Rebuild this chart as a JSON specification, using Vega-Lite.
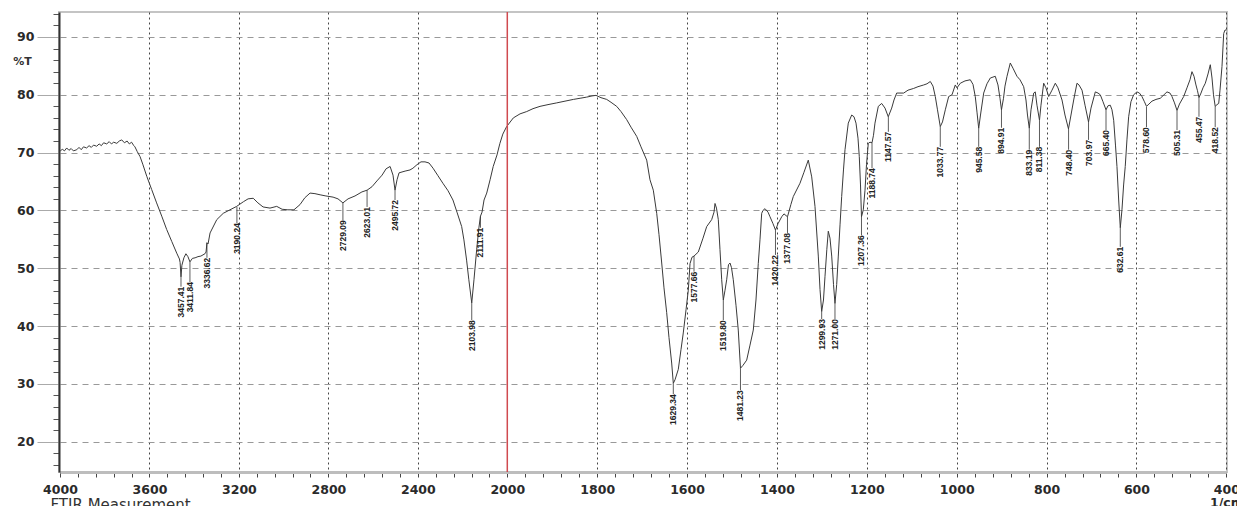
{
  "$schema": "https://vega.github.io/schema/vega-lite/v6.json",
  "width": 1168,
  "height": 460,
  "autosize": {"type": "none"},
  "padding": {"left": 59, "top": 12, "right": 10, "bottom": 34},
  "background": "white",
  "view": {"stroke": "#c4c4c4", "strokeWidth": 2},
  "config": {"font": "DejaVu Sans"},
  "datasets": {
    "spectrum": [
      {"wn":4000,"t":70.2},{"wn":3990,"t":70.6},{"wn":3980,"t":70.3},{"wn":3970,"t":70.8},{"wn":3960,"t":70.4},{"wn":3950,"t":70.7},{"wn":3940,"t":70.3},{"wn":3925,"t":70.5},{"wn":3915,"t":70.9},{"wn":3905,"t":70.5},{"wn":3895,"t":71.0},{"wn":3881,"t":70.8},{"wn":3870,"t":71.2},{"wn":3860,"t":70.9},{"wn":3850,"t":71.3},{"wn":3836,"t":71.1},{"wn":3825,"t":71.5},{"wn":3815,"t":71.2},{"wn":3805,"t":71.7},{"wn":3791,"t":71.5},{"wn":3780,"t":71.9},{"wn":3770,"t":71.5},{"wn":3760,"t":71.8},{"wn":3746,"t":71.6},{"wn":3735,"t":72.0},{"wn":3724,"t":72.2},{"wn":3712,"t":71.7},{"wn":3700,"t":72.0},{"wn":3690,"t":71.5},{"wn":3680,"t":71.8},{"wn":3670,"t":71.2},{"wn":3665,"t":71.0},{"wn":3655,"t":70.2},{"wn":3642,"t":69.3},{"wn":3630,"t":68.0},{"wn":3612,"t":65.9},{"wn":3590,"t":63.6},{"wn":3568,"t":61.3},{"wn":3545,"t":59.0},{"wn":3523,"t":56.7},{"wn":3500,"t":54.6},{"wn":3478,"t":52.6},{"wn":3466,"t":51.6},{"wn":3463,"t":51.0},{"wn":3459,"t":48.5},{"wn":3455,"t":50.5},{"wn":3446,"t":51.8},{"wn":3437,"t":52.5},{"wn":3428,"t":52.0},{"wn":3419,"t":51.1},{"wn":3408,"t":51.7},{"wn":3396,"t":51.8},{"wn":3383,"t":52.0},{"wn":3370,"t":52.1},{"wn":3352,"t":52.5},{"wn":3347,"t":52.8},{"wn":3343,"t":54.4},{"wn":3338,"t":54.2},{"wn":3329,"t":56.1},{"wn":3299,"t":58.4},{"wn":3270,"t":59.5},{"wn":3240,"t":60.1},{"wn":3210,"t":60.7},{"wn":3180,"t":61.5},{"wn":3159,"t":62.0},{"wn":3136,"t":62.1},{"wn":3115,"t":61.3},{"wn":3092,"t":60.6},{"wn":3061,"t":60.4},{"wn":3031,"t":60.7},{"wn":3007,"t":60.2},{"wn":2981,"t":60.1},{"wn":2954,"t":60.1},{"wn":2927,"t":61.0},{"wn":2905,"t":62.2},{"wn":2882,"t":63.0},{"wn":2860,"t":62.9},{"wn":2837,"t":62.7},{"wn":2811,"t":62.5},{"wn":2779,"t":62.3},{"wn":2757,"t":62.0},{"wn":2735,"t":61.3},{"wn":2712,"t":62.0},{"wn":2681,"t":62.5},{"wn":2650,"t":63.2},{"wn":2627,"t":63.5},{"wn":2605,"t":64.1},{"wn":2583,"t":65.1},{"wn":2560,"t":66.1},{"wn":2542,"t":67.2},{"wn":2524,"t":67.6},{"wn":2511,"t":66.1},{"wn":2502,"t":63.5},{"wn":2493,"t":65.3},{"wn":2484,"t":66.5},{"wn":2457,"t":66.8},{"wn":2435,"t":67.0},{"wn":2422,"t":67.3},{"wn":2404,"t":67.9},{"wn":2386,"t":68.4},{"wn":2368,"t":68.4},{"wn":2350,"t":68.2},{"wn":2332,"t":67.3},{"wn":2310,"t":66.0},{"wn":2288,"t":64.7},{"wn":2265,"t":63.4},{"wn":2243,"t":61.8},{"wn":2225,"t":59.7},{"wn":2204,"t":57.2},{"wn":2194,"t":54.9},{"wn":2182,"t":51.4},{"wn":2172,"t":48.0},{"wn":2159,"t":44.0},{"wn":2149,"t":48.0},{"wn":2137,"t":53.2},{"wn":2127,"t":57.0},{"wn":2120,"t":59.0},{"wn":2113,"t":59.7},{"wn":2104,"t":61.8},{"wn":2092,"t":63.0},{"wn":2077,"t":65.3},{"wn":2063,"t":67.6},{"wn":2046,"t":69.6},{"wn":2033,"t":71.6},{"wn":2020,"t":73.2},{"wn":2003,"t":74.5},
      {"wn":1986.6,"t":76.0},{"wn":1971.7,"t":76.7},{"wn":1956.8,"t":77.1},{"wn":1942.8,"t":77.6},{"wn":1927.2,"t":78.0},{"wn":1909.4,"t":78.3},{"wn":1890,"t":78.6},{"wn":1871.6,"t":78.9},{"wn":1853,"t":79.2},{"wn":1838,"t":79.4},{"wn":1823.3,"t":79.6},{"wn":1811.5,"t":79.8},{"wn":1802.6,"t":79.9},{"wn":1791.5,"t":79.5},{"wn":1778.8,"t":79.2},{"wn":1769.2,"t":78.7},{"wn":1756.6,"t":78.0},{"wn":1747,"t":77.1},{"wn":1734.3,"t":75.7},{"wn":1724.7,"t":74.4},{"wn":1712,"t":72.8},{"wn":1702.5,"t":71.0},{"wn":1689.8,"t":68.7},{"wn":1682.5,"t":65.3},{"wn":1675.1,"t":63.5},{"wn":1667.5,"t":59.5},{"wn":1662.4,"t":55.8},{"wn":1656.4,"t":50.9},{"wn":1651.3,"t":46.6},{"wn":1645.3,"t":42.3},{"wn":1640.2,"t":38.0},{"wn":1634.2,"t":33.6},{"wn":1630.6,"t":30.1},{"wn":1626.8,"t":30.7},{"wn":1619.5,"t":32.5},{"wn":1613.5,"t":35.9},{"wn":1608.4,"t":38.8},{"wn":1602.3,"t":42.8},{"wn":1597.2,"t":46.2},{"wn":1593.4,"t":50.8},{"wn":1589,"t":51.9},{"wn":1584.5,"t":52.1},{"wn":1575,"t":52.8},{"wn":1564.5,"t":55.2},{"wn":1556.3,"t":57.2},{"wn":1545.2,"t":58.4},{"wn":1540,"t":59.7},{"wn":1537.8,"t":61.2},{"wn":1534.5,"t":60.4},{"wn":1530.4,"t":58.4},{"wn":1526.7,"t":53.2},{"wn":1522.9,"t":48.0},{"wn":1519.3,"t":44.5},{"wn":1515.5,"t":46.2},{"wn":1511.8,"t":48.0},{"wn":1507.8,"t":50.6},{"wn":1504.4,"t":50.9},{"wn":1501.1,"t":50.1},{"wn":1497.1,"t":48.0},{"wn":1491.1,"t":43.6},{"wn":1486,"t":39.3},{"wn":1481.1,"t":32.7},{"wn":1475.5,"t":33.2},{"wn":1467.3,"t":34.1},{"wn":1459.9,"t":36.7},{"wn":1452.6,"t":39.3},{"wn":1446.6,"t":44.5},{"wn":1441.5,"t":50.8},{"wn":1437.7,"t":54.9},{"wn":1433.9,"t":59.5},{"wn":1431,"t":60.0},{"wn":1426.5,"t":60.3},{"wn":1419.8,"t":59.7},{"wn":1415.4,"t":58.9},{"wn":1408.7,"t":57.7},{"wn":1403.2,"t":56.6},{"wn":1397.6,"t":57.7},{"wn":1389.4,"t":58.9},{"wn":1384.3,"t":59.4},{"wn":1376.5,"t":58.9},{"wn":1369,"t":61.0},{"wn":1363.6,"t":62.4},{"wn":1348.7,"t":64.7},{"wn":1339.8,"t":66.6},{"wn":1330.2,"t":68.7},{"wn":1322.6,"t":65.8},{"wn":1315.3,"t":60.7},{"wn":1307.9,"t":52.1},{"wn":1304.1,"t":46.3},{"wn":1300.4,"t":42.5},{"wn":1296.4,"t":44.5},{"wn":1293,"t":48.6},{"wn":1289,"t":53.2},{"wn":1285.7,"t":56.4},{"wn":1281.9,"t":55.2},{"wn":1278.1,"t":52.1},{"wn":1274.1,"t":47.2},{"wn":1270.8,"t":43.9},{"wn":1267,"t":47.2},{"wn":1263.4,"t":52.1},{"wn":1259.6,"t":57.5},{"wn":1255.9,"t":62.4},{"wn":1251.9,"t":67.0},{"wn":1248.5,"t":70.5},{"wn":1241.2,"t":75.1},{"wn":1233.6,"t":76.5},{"wn":1228.5,"t":76.2},{"wn":1224,"t":75.1},{"wn":1219.6,"t":72.5},{"wn":1216.7,"t":69.3},{"wn":1214,"t":64.4},{"wn":1211.8,"t":58.9},{"wn":1207.8,"t":60.1},{"wn":1204,"t":63.5},{"wn":1200.7,"t":67.9},{"wn":1196.7,"t":71.6},{"wn":1192.9,"t":71.8},{"wn":1188.4,"t":71.7},{"wn":1185.1,"t":73.0},{"wn":1181.8,"t":75.1},{"wn":1174.4,"t":78.0},{"wn":1166.9,"t":78.5},{"wn":1159.5,"t":77.7},{"wn":1152.2,"t":76.2},{"wn":1144.6,"t":77.7},{"wn":1139.5,"t":79.1},{"wn":1133.5,"t":80.3},{"wn":1117.9,"t":80.3},{"wn":1108.3,"t":80.8},{"wn":1095.7,"t":81.1},{"wn":1086.1,"t":81.4},{"wn":1073.4,"t":81.7},{"wn":1066.1,"t":81.9},{"wn":1058.7,"t":82.3},{"wn":1052.7,"t":81.5},{"wn":1047.6,"t":79.7},{"wn":1042.7,"t":77.4},{"wn":1036.5,"t":74.5},{"wn":1031.6,"t":75.3},{"wn":1025.3,"t":77.4},{"wn":1017.8,"t":79.7},{"wn":1010.4,"t":80.0},{"wn":1003.1,"t":81.7},{"wn":999.3,"t":81.2},{"wn":991.9,"t":82.0},{"wn":981.5,"t":82.4},{"wn":969.7,"t":82.6},{"wn":963.7,"t":81.8},{"wn":958.6,"t":79.7},{"wn":954.8,"t":77.0},{"wn":951,"t":74.2},{"wn":947,"t":76.5},{"wn":939.9,"t":80.3},{"wn":932.6,"t":81.9},{"wn":925.2,"t":82.9},{"wn":914.1,"t":83.2},{"wn":908.1,"t":81.7},{"wn":903.6,"t":79.4},{"wn":900.3,"t":77.4},{"wn":895.8,"t":79.4},{"wn":892.5,"t":81.5},{"wn":888,"t":83.2},{"wn":880.7,"t":85.5},{"wn":874.7,"t":84.6},{"wn":865.8,"t":83.2},{"wn":859.1,"t":82.6},{"wn":850.9,"t":81.4},{"wn":845.8,"t":79.1},{"wn":842.4,"t":76.5},{"wn":838.4,"t":74.2},{"wn":834.6,"t":77.4},{"wn":828.6,"t":80.3},{"wn":825.1,"t":80.5},{"wn":821.3,"t":78.2},{"wn":815.7,"t":75.6},{"wn":812.4,"t":78.2},{"wn":806.4,"t":82.0},{"wn":801.3,"t":81.2},{"wn":795.2,"t":79.7},{"wn":787.9,"t":80.8},{"wn":780.5,"t":82.0},{"wn":774.6,"t":81.2},{"wn":765.6,"t":79.1},{"wn":759,"t":76.5},{"wn":751.2,"t":74.1},{"wn":745.6,"t":76.5},{"wn":739.6,"t":79.1},{"wn":732.3,"t":82.0},{"wn":727.8,"t":81.7},{"wn":721.1,"t":80.8},{"wn":714.4,"t":78.2},{"wn":706.6,"t":75.3},{"wn":701.1,"t":77.7},{"wn":691.5,"t":80.5},{"wn":685.5,"t":80.3},{"wn":680.4,"t":80.0},{"wn":674.4,"t":78.8},{"wn":667.7,"t":77.4},{"wn":663.3,"t":78.1},{"wn":658.2,"t":78.2},{"wn":654.4,"t":77.4},{"wn":650.6,"t":75.6},{"wn":646.6,"t":71.3},{"wn":643.3,"t":67.6},{"wn":639.5,"t":61.8},{"wn":635.9,"t":57.0},{"wn":632.2,"t":60.1},{"wn":628.5,"t":64.4},{"wn":624.9,"t":67.6},{"wn":621.1,"t":72.2},{"wn":617.3,"t":76.2},{"wn":612.2,"t":78.8},{"wn":606.2,"t":80.0},{"wn":598.8,"t":80.5},{"wn":593.3,"t":80.3},{"wn":587.7,"t":79.7},{"wn":582.2,"t":78.8},{"wn":577.6,"t":78.0},{"wn":572.1,"t":78.4},{"wn":565.4,"t":78.9},{"wn":556.5,"t":79.2},{"wn":546.9,"t":79.4},{"wn":538.7,"t":80.0},{"wn":532,"t":80.5},{"wn":525.4,"t":80.3},{"wn":520.9,"t":79.7},{"wn":515.3,"t":78.6},{"wn":509.7,"t":77.3},{"wn":504.2,"t":78.4},{"wn":494.8,"t":79.7},{"wn":487.5,"t":81.2},{"wn":480.8,"t":82.6},{"wn":476.4,"t":84.0},{"wn":471.9,"t":83.2},{"wn":467.5,"t":81.7},{"wn":464.1,"t":80.7},{"wn":460.8,"t":79.5},{"wn":456.3,"t":80.3},{"wn":451.9,"t":81.2},{"wn":446.7,"t":82.0},{"wn":440.7,"t":83.6},{"wn":435.6,"t":85.2},{"wn":431.8,"t":82.9},{"wn":428.5,"t":80.0},{"wn":424.7,"t":78.0},{"wn":420.7,"t":78.3},{"wn":416.9,"t":78.5},{"wn":414,"t":80.8},{"wn":409.6,"t":84.9},{"wn":405.8,"t":90.6},{"wn":402.9,"t":91.2},{"wn":400,"t":91.2}
    ],
    "peaks": [
      {"label":"3457.41","wn":3459,"tip":48.5,"top":46.8},
      {"label":"3411.84","wn":3419,"tip":51.1,"top":47.6},
      {"label":"3336.62","wn":3343,"tip":54.4,"top":51.8},
      {"label":"3190.24","wn":3209,"tip":60.6,"top":57.8},
      {"label":"2729.09","wn":2735,"tip":61.3,"top":58.3},
      {"label":"2623.01","wn":2627,"tip":63.5,"top":60.6},
      {"label":"2495.72","wn":2502,"tip":63.5,"top":61.8},
      {"label":"2103.98","wn":2159,"tip":44.0,"top":41.0},
      {"label":"2111.91","wn":2120,"tip":59.0,"top":57.0},
      {"label":"1629.34","wn":1630.6,"tip":30.1,"top":28.2},
      {"label":"1577.66","wn":1584.5,"tip":52.1,"top":49.4},
      {"label":"1519.80","wn":1519.3,"tip":44.5,"top":41.0},
      {"label":"1481.23","wn":1481.1,"tip":32.7,"top":28.9},
      {"label":"1420.22","wn":1403.2,"tip":56.6,"top":52.3},
      {"label":"1377.08","wn":1376.5,"tip":58.9,"top":56.1},
      {"label":"1299.93","wn":1300.4,"tip":42.5,"top":41.2},
      {"label":"1271.00","wn":1270.8,"tip":43.9,"top":41.2},
      {"label":"1207.36","wn":1211.8,"tip":58.9,"top":55.7},
      {"label":"1188.74","wn":1188.4,"tip":71.7,"top":67.3},
      {"label":"1147.57","wn":1152,"tip":76.2,"top":73.6},
      {"label":"1033.77","wn":1036.5,"tip":74.5,"top":71.0},
      {"label":"945.58","wn":951,"tip":74.2,"top":71.0},
      {"label":"894.91","wn":900.3,"tip":77.4,"top":74.3},
      {"label":"833.19","wn":838.4,"tip":74.2,"top":70.5},
      {"label":"811.38","wn":815.7,"tip":75.6,"top":71.0},
      {"label":"748.40","wn":751,"tip":74.1,"top":70.5},
      {"label":"703.97","wn":706.6,"tip":75.3,"top":72.2},
      {"label":"665.40","wn":667.7,"tip":77.4,"top":73.9},
      {"label":"632.61","wn":635.9,"tip":57.0,"top":53.7},
      {"label":"578.60","wn":577.6,"tip":77.9,"top":74.4},
      {"label":"505.31","wn":509.7,"tip":77.3,"top":73.9},
      {"label":"455.47","wn":460.8,"tip":79.5,"top":76.2},
      {"label":"418.52","wn":424.7,"tip":78.0,"top":74.4}
    ]
  },
  "layer": [
    {
      "data": {"name": "spectrum"},
      "mark": {"type": "line", "color": "#3a3a3a", "strokeWidth": 1},
      "encoding": {
        "x": {
          "field": "wn", "type": "quantitative",
          "scale": {"domain": [4000, 2000, 400], "range": [1, 448.3, 1167.3], "nice": false, "zero": false},
          "axis": {
            "values": [4000,3920,3840,3760,3680,3600,3520,3440,3360,3280,3200,3120,3040,2960,2880,2800,2720,2640,2560,2480,2400,2320,2240,2160,2080,2000,1960,1920,1880,1840,1800,1760,1720,1680,1640,1600,1560,1520,1480,1440,1400,1360,1320,1280,1240,1200,1160,1120,1080,1040,1000,960,920,880,840,800,760,720,680,640,600,560,520,480,440,400],
            "tickCount": 500,
            "title": "FTIR Measurement",
            "titleAnchor": "start", "titleAlign": "left", "titleBaseline": "top",
            "titleX": -9, "titleY": 25,
            "titleFont": "DejaVu Sans", "titleFontSize": 15, "titleFontWeight": "normal", "titleColor": "#333",
            "labelExpr": "((datum.value >= 2000 && datum.value % 400 == 0) || (datum.value <= 2000 && datum.value % 200 == 0)) ? (datum.value == 400 ? ['400', '1/cm'] : '' + datum.value) : ''",
            "labelFont": "DejaVu Sans", "labelFontSize": 12.5, "labelFontWeight": "bold", "labelColor": "#2a2a2a",
            "labelPadding": 6, "labelOverlap": false, "labelFlush": false, "labelBound": false, "labelLineHeight": 13,
            "domainColor": "#bdbdbd", "domainWidth": 3,
            "tickColor": "#444", "tickSize": 5, "tickWidth": 1,
            "grid": true, "gridColor": "#444", "gridDash": [2, 3], "gridWidth": 1,
            "gridOpacity": {"condition": {"test": "((datum.value >= 2000 && datum.value % 400 == 0) || (datum.value <= 2000 && datum.value % 200 == 0)) && datum.value != 4000 && datum.value != 2000", "value": 1}, "value": 0}
          }
        },
        "y": {
          "field": "t", "type": "quantitative",
          "scale": {"domain": [14.75, 94.32], "nice": false, "zero": false},
          "axis": {
            "values": [16,18,20,22,24,26,28,30,32,34,36,38,40,42,44,46,48,50,52,54,56,58,60,62,64,66,68,70,72,74,76,78,80,82,84,86,88,90,92,94],
            "tickCount": 500,
            "title": "%T", "titleAngle": 0, "titleX": -37, "titleY": 49,
            "titleAlign": "center", "titleBaseline": "middle",
            "titleFont": "DejaVu Sans", "titleFontSize": 11, "titleFontWeight": "bold", "titleColor": "#333",
            "labelExpr": "datum.value % 10 == 0 ? '' + datum.value : ''",
            "labelFont": "DejaVu Sans", "labelFontSize": 12.5, "labelFontWeight": "bold", "labelColor": "#2a2a2a",
            "labelPadding": 3,
            "domainColor": "#333", "domainWidth": 2,
            "tickSize": {"condition": {"test": "datum.value % 10 == 0", "value": 22}, "value": 6},
            "tickColor": {"condition": {"test": "datum.value % 10 == 0", "value": "#aaaaaa"}, "value": "#555555"},
            "grid": true, "gridColor": "#999999", "gridDash": [6, 5], "gridWidth": 1.2,
            "gridOpacity": {"condition": {"test": "datum.value % 10 == 0", "value": 1}, "value": 0}
          }
        }
      }
    },
    {
      "data": {"name": "peaks"},
      "mark": {"type": "rule", "color": "#333", "strokeWidth": 0.8},
      "encoding": {
        "x": {"field": "wn", "type": "quantitative"},
        "y": {"field": "tip", "type": "quantitative"},
        "y2": {"field": "top"}
      }
    },
    {
      "data": {"name": "peaks"},
      "mark": {"type": "text", "angle": 270, "align": "right", "baseline": "middle", "font": "Liberation Sans", "fontSize": 8.5, "fontWeight": "bold", "color": "#222"},
      "encoding": {
        "x": {"field": "wn", "type": "quantitative"},
        "y": {"field": "top", "type": "quantitative"},
        "text": {"field": "label"}
      }
    },
    {
      "data": {"values": [{}]},
      "mark": {"type": "rule", "color": "#d04a4f", "strokeWidth": 1.5},
      "encoding": {"x": {"datum": 2000}}
    }
  ]
}
